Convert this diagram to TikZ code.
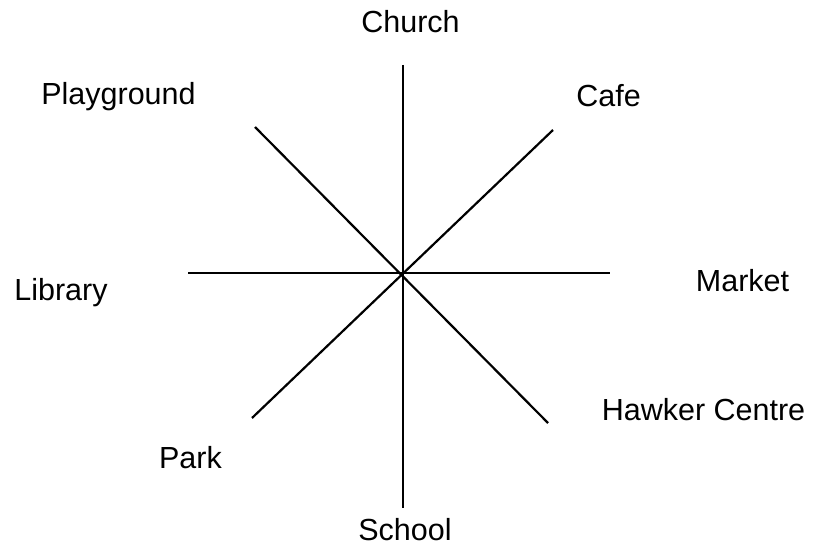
\documentclass[tikz,border=0pt]{standalone}
\usepackage{fontspec}
\setmainfont{Liberation Sans}
\begin{document}
\begin{tikzpicture}[x=1pt,y=-1pt,
  lab/.style={anchor=base,inner sep=0pt,font=\fontsize{30.5}{34}\selectfont},
  ray/.style={line width=2.2pt,black}]
\useasboundingbox (0,0) rectangle (813,548);
\coordinate (c) at (403,273);
\coordinate (n) at (403,65);
\coordinate (s) at (403,508);
\coordinate (w) at (188,273);
\coordinate (e) at (610,273);
\coordinate (nw) at (255,127);
\coordinate (se) at (548,423);
\coordinate (ne) at (553,130);
\coordinate (sw) at (252,418);
\draw[ray] (n) -- (s);
\draw[ray] (w) -- (e);
\draw[ray] (nw) -- (se);
\draw[ray] (ne) -- (sw);
\node[lab] (church) at (410.5,33) {Church};
\node[lab] (playground) at (118.5,105) {Playground};
\node[lab] (cafe) at (608.5,107) {Cafe};
\node[lab] (library) at (61,300) {Library};
\node[lab] (market) at (742.5,291) {Market};
\node[lab] (hawker) at (703.5,420) {Hawker Centre};
\node[lab] (park) at (190.5,468) {Park};
\node[lab] (school) at (405,540) {School};
\end{tikzpicture}
\end{document}
